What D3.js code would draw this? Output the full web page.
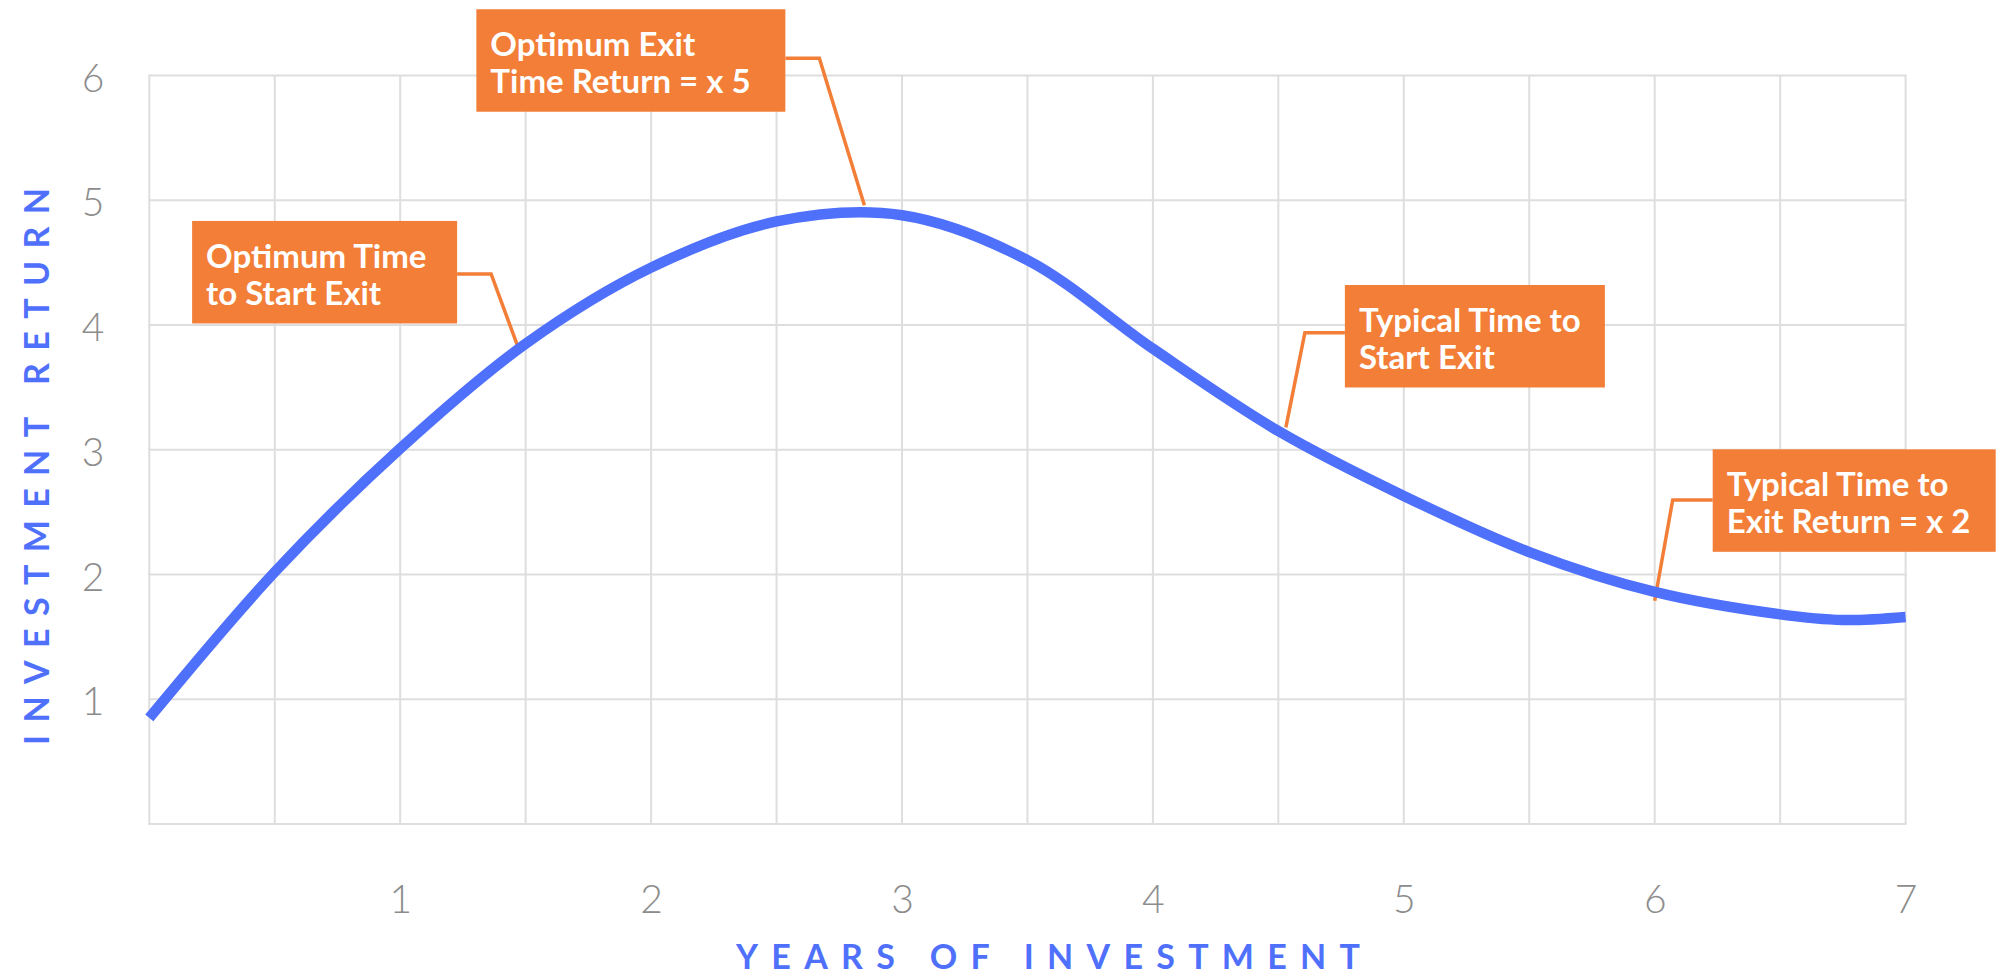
<!DOCTYPE html>
<html>
<head>
<meta charset="utf-8">
<script src="https://cdn.jsdelivr.net/npm/d3@7"></script>
<style>
  html, body { margin: 0; padding: 0; background: #ffffff; }
  svg { display: block; font-family: Lato, "Open Sans", sans-serif; }
</style>
</head>
<body>
<svg id="chart" width="2001" height="976"></svg>
<script>
// ---------- data ----------
const years   = [0, 0.5, 1, 1.5, 2, 2.5, 3, 3.5, 4, 4.5, 5, 5.5, 6, 6.5, 6.75, 7];
const returns = [0.85, 2.02, 3.01, 3.85, 4.46, 4.83, 4.88, 4.52, 3.81, 3.15, 2.63, 2.18, 1.86, 1.68, 1.635, 1.66];
const xTickValues = [1, 2, 3, 4, 5, 6, 7];
const yTickValues = [1, 2, 3, 4, 5, 6];
const xGridValues = [0, 0.5, 1, 1.5, 2, 2.5, 3, 3.5, 4, 4.5, 5, 5.5, 6, 6.5, 7];
const yGridValues = [0, 1, 2, 3, 4, 5, 6];
const xTitle = "YEARS OF INVESTMENT";
const yTitle = "INVESTMENT RETURN";
const noteLines = [
  ["Optimum Exit", "Time Return = x 5"],
  ["Optimum Time", "to Start Exit"],
  ["Typical Time to", "Start Exit"],
  ["Typical Time to", "Exit Return = x 2"]
];
const noteYears   = [2.85, 1.47, 4.53, 6.0];
const noteReturns = [4.96, 3.82, 3.18, 1.79];

// ---------- layout / style ----------
const plot = { left: 149.3, right: 1905.6, top: 75.5, bottom: 824 };
const BLUE = "#4f70fb", ORANGE = "#f27e37", GRID = "#dedede", TICK = "#8c8c8c";
// annotation layout: elbow offset from curve point, box side, gap, box width, box top offset from elbow
const noteLayout = [
  { dx: -45, dy: -147,   side: "left",  gap: 34, w: 309, top: -49 },
  { dx: -27, dy: -73.5,  side: "left",  gap: 34, w: 265, top: -53 },
  { dx: 19,  dy: -94.6,  side: "right", gap: 40, w: 260, top: -47.7 },
  { dx: 18,  dy: -100.7, side: "right", gap: 40, w: 283, top: -50.7 }
];
const boxH = 102.5;

const svg = d3.select("#chart");
const x = d3.scaleLinear().domain([0, 7]).range([plot.left, plot.right]);
const y = d3.scaleLinear().domain([0, 6]).range([plot.bottom, plot.top]);

// grid
const grid = svg.append("g");
grid.selectAll("line.v").data(xGridValues).join("line")
  .attr("x1", d => x(d)).attr("x2", d => x(d))
  .attr("y1", y(0)).attr("y2", y(6))
  .attr("stroke", GRID).attr("stroke-width", 2);
grid.selectAll("line.h").data(yGridValues).join("line")
  .attr("x1", x(0) - 1).attr("x2", x(7) + 1)
  .attr("y1", d => y(d)).attr("y2", d => y(d))
  .attr("stroke", GRID).attr("stroke-width", 2);

// axes (labels only)
const xAxis = d3.axisBottom(x).tickValues(xTickValues).tickSize(0).tickPadding(0).tickFormat(d3.format("d"));
const gx = svg.append("g").attr("transform", `translate(0,${plot.bottom})`).call(xAxis);
gx.select(".domain").remove();
gx.selectAll("text").attr("y", 89).attr("dy", null)
  .style("font-family", "Lato, sans-serif").style("font-weight", 300)
  .style("font-size", "39px").attr("fill", TICK);

const yAxis = d3.axisLeft(y).tickValues(yTickValues).tickSize(0).tickPadding(0).tickFormat(d3.format("d"));
const gy = svg.append("g").attr("transform", `translate(${plot.left},0)`).call(yAxis);
gy.select(".domain").remove();
gy.selectAll("text").attr("x", 93 - plot.left).attr("dy", 15.5)
  .attr("text-anchor", "middle")
  .style("font-family", "Lato, sans-serif").style("font-weight", 300)
  .style("font-size", "39px").attr("fill", TICK);

// axis titles
function spacedTitle(sel, txt, targetWidth) {
  const t = sel.append("text").text(txt)
    .style("font-family", "Lato, sans-serif").style("font-weight", 700)
    .style("font-size", "34px").attr("fill", BLUE);
  const nat = t.node().getComputedTextLength();
  const ls = (targetWidth - nat) / (txt.length - 1);
  t.style("letter-spacing", ls + "px");
  return t;
}
spacedTitle(svg.append("g").attr("transform", "translate(736,969)"), xTitle, 624);
spacedTitle(svg.append("g").attr("transform", "translate(49.3,745) rotate(-90)"), yTitle, 557);

// annotations (leaders drawn under the curve)
const notes = noteLines.map((lines, i) => {
  const L = noteLayout[i];
  const ex = x(noteYears[i]), ey = y(noteReturns[i]);
  const bx = ex + L.dx, by = ey + L.dy;
  const boxX = L.side === "left" ? bx - L.gap - L.w : bx + L.gap;
  const edgeX = L.side === "left" ? bx - L.gap : bx + L.gap;
  return { lines, ex, ey, bx, by, boxX, edgeX, boxY: by + L.top, w: L.w };
});

const ng = svg.append("g");
ng.selectAll("path.leader").data(notes).join("path")
  .attr("d", d => d3.line()([[d.edgeX, d.by], [d.bx, d.by], [d.ex, d.ey]]))
  .attr("fill", "none").attr("stroke", ORANGE).attr("stroke-width", 3.5)
  .attr("stroke-linejoin", "miter");

// curve
const line = d3.line().x((d, i) => x(years[i])).y(d => y(d)).curve(d3.curveCatmullRom.alpha(0.5));
svg.append("path").datum(returns)
  .attr("d", line).attr("fill", "none")
  .attr("stroke", BLUE).attr("stroke-width", 10.5);

// boxes
const bg = svg.append("g");
bg.selectAll("rect").data(notes).join("rect")
  .attr("x", d => d.boxX).attr("y", d => d.boxY)
  .attr("width", d => d.w).attr("height", boxH)
  .attr("fill", ORANGE);
const tg = bg.selectAll("text").data(notes).join("text")
  .attr("x", d => d.boxX + 14).attr("y", d => d.boxY)
  .style("font-family", "Lato, sans-serif").style("font-weight", 700)
  .style("font-size", "33px").attr("fill", "#ffffff");
tg.selectAll("tspan").data(d => d.lines.map((l, j) => ({ l, j, d }))).join("tspan")
  .attr("x", o => o.d.boxX + 14)
  .attr("y", o => o.d.boxY + 47 + o.j * 36.7)
  .text(o => o.l);
</script>
</body>
</html>
